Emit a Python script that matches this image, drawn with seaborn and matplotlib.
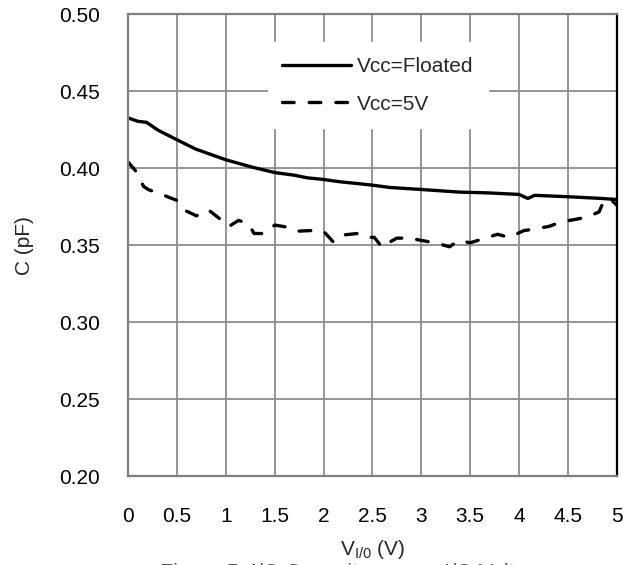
import matplotlib
matplotlib.use("Agg")
import matplotlib.pyplot as plt
import pandas as pd
import seaborn as sns

# Vcc = Floated (solid)
v_floated = [0.0, 0.1, 0.19, 0.31, 0.5, 0.69, 1.0, 1.27, 1.5, 1.71, 1.83, 2.0, 2.17,
             2.34, 2.5, 2.68, 3.0, 3.39, 3.68, 4.0, 4.09, 4.16, 4.5, 4.84, 5.0]
c_floated = [0.4326, 0.4304, 0.4297, 0.4245, 0.4184, 0.4124, 0.4054, 0.4006, 0.3971,
             0.3953, 0.3937, 0.3926, 0.3911, 0.3900, 0.3889, 0.3874, 0.3861, 0.3844,
             0.3839, 0.3829, 0.3803, 0.3823, 0.3814, 0.3803, 0.3796]

# Vcc = 5V (dashed)
v_5v = [0.0, 0.08, 0.16, 0.21, 0.38, 0.5, 0.6, 0.7, 0.82, 0.94, 1.03, 1.13, 1.23, 1.29,
        1.4, 1.5, 1.64, 1.72, 1.9, 2.0, 2.1, 2.2, 2.34, 2.44, 2.52, 2.6, 2.65, 2.75,
        2.88, 3.02, 3.14, 3.29, 3.38, 3.5, 3.65, 3.78, 3.9, 4.05, 4.17, 4.31, 4.43,
        4.56, 4.7, 4.82, 4.87, 4.94, 5.0]
c_5v = [0.404, 0.398, 0.388, 0.386, 0.382, 0.379, 0.372, 0.369, 0.373, 0.367, 0.362,
        0.366, 0.364, 0.3575, 0.3575, 0.363, 0.3615, 0.359, 0.3595, 0.359, 0.352,
        0.3565, 0.3575, 0.355, 0.355, 0.3484, 0.351, 0.3545, 0.3545, 0.3528, 0.3515,
        0.3489, 0.353, 0.3515, 0.3544, 0.357, 0.355, 0.3594, 0.3605, 0.3622, 0.365,
        0.3665, 0.3682, 0.3716, 0.3793, 0.3796, 0.3759]

x_ticks = [0, 0.5, 1, 1.5, 2, 2.5, 3, 3.5, 4, 4.5, 5]
x_tick_labels = ["0", "0.5", "1", "1.5", "2", "2.5", "3", "3.5", "4", "4.5", "5"]
y_ticks = [0.20, 0.25, 0.30, 0.35, 0.40, 0.45, 0.50]

df = pd.concat([
    pd.DataFrame({"V": v_floated, "C": c_floated, "series": "Vcc=Floated"}),
    pd.DataFrame({"V": v_5v, "C": c_5v, "series": "Vcc=5V"}),
])

sns.set_theme(style="white")
plt.rcParams["font.family"] = ["Liberation Sans", "DejaVu Sans"]
plt.rcParams["mathtext.default"] = "regular"

fig = plt.figure(figsize=(6.23, 5.65), dpi=100)
ax = fig.add_axes([0.2055, 0.1575, 0.7845, 0.8175])

sns.lineplot(ax=ax, data=df, x="V", y="C", style="series",
             dashes={"Vcc=Floated": "", "Vcc=5V": (3.5, 4.5)},
             color="black", linewidth=2.4, sort=False, estimator=None)
for line in ax.get_lines():
    line.set_dash_capstyle("round")
    line.set_solid_capstyle("round")

ax.set_xlim(0, 5)
ax.set_ylim(0.20, 0.50)
ax.set_xticks(x_ticks)
ax.set_xticklabels(x_tick_labels)
ax.set_yticks(y_ticks)
ax.set_yticklabels([f"{t:.2f}" for t in y_ticks])
ax.tick_params(axis="both", labelsize=15, colors="black", length=0)
ax.tick_params(axis="x", pad=22)
ax.tick_params(axis="y", pad=20)
ax.grid(True, color="#8c8c8c", linewidth=1.3)
ax.set_axisbelow(True)

for side in ["left", "top", "bottom"]:
    ax.spines[side].set_color("#7f7f7f")
    ax.spines[side].set_linewidth(1.6)
ax.spines["right"].set_color("black")
ax.spines["right"].set_linewidth(1.6)

ax.set_xlabel("V$_{I/0}$ (V)", fontsize=15, labelpad=9)
ax.set_ylabel("C (pF)", fontsize=15, labelpad=18)

leg = ax.legend(loc="upper left", bbox_to_anchor=(0.286, 0.939), frameon=True,
                fontsize=15, handlelength=3.3, handletextpad=0.3,
                labelspacing=0.9, borderpad=0.7, borderaxespad=0)
leg.get_frame().set_facecolor("white")
leg.get_frame().set_edgecolor("white")
leg.get_frame().set_alpha(1)
leg.get_frame().set_boxstyle("square", pad=0)
for line in leg.get_lines():
    line.set_linewidth(2.4)
    line.set_dash_capstyle("round")

# caption sits mostly below the bottom edge, as in the reference
fig.text(0.571, -0.024, "Figure 5. I/O Capacitance vs. I/O Voltage",
         ha="center", va="baseline", fontsize=15.5, color="#555555")

fig.savefig("out.png", dpi=100)
